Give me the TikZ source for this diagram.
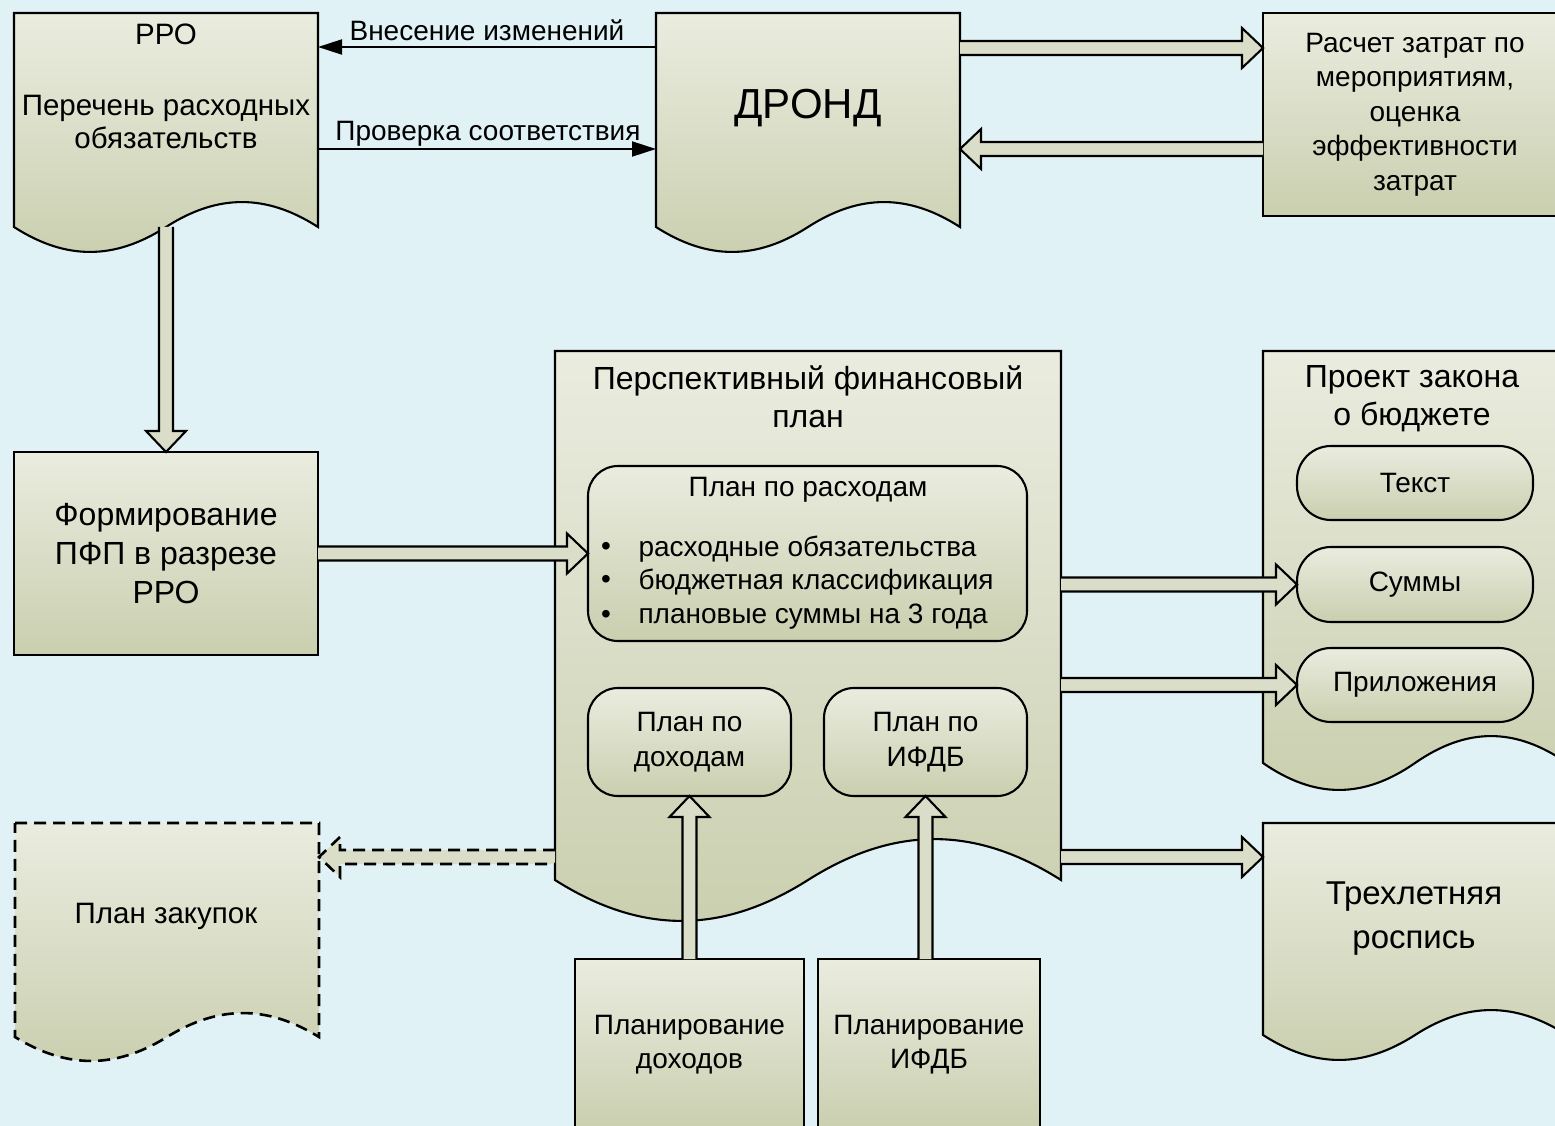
\documentclass[tikz,border=0pt]{standalone}
\usepackage{fontspec}
\setmainfont{Liberation Sans}
\usetikzlibrary{calc,arrows.meta}

\definecolor{bg}{HTML}{E1F2F7}
\definecolor{gtop}{HTML}{EAECDF}
\definecolor{gbot}{HTML}{CACFAF}
\definecolor{afill}{HTML}{DADDC8}

\tikzset{
  shp/.style={draw=black, line width=2.1pt, top color=gtop, bottom color=gbot},
  inv/.style={inner sep=0pt, outer sep=0pt, draw=none, rectangle},
  rbox/.style={shp, inner sep=0pt, outer sep=0pt, rectangle},
  rnd/.style={rbox, rounded corners=30pt},
  pill/.style={rbox, rounded corners=34pt},
  barst/.style={draw=black, line width=2.1pt, fill=afill, line join=miter},
  dashst/.style={dash pattern=on 12pt off 7pt},
  thinarr/.style={draw=black, line width=2pt, -{Triangle[length=24pt, width=15pt]}},
  fA/.style={font=\fontsize{28}{33}\selectfont},
  fR/.style={font=\fontsize{29.5}{33}\selectfont},
  fC/.style={font=\fontsize{28}{34.5}\selectfont},
  fH/.style={font=\fontsize{32}{38}\selectfont},
  fF/.style={font=\fontsize{32}{39}\selectfont},
  fT/.style={font=\fontsize{33}{44}\selectfont},
  fD/.style={font=\fontsize{42}{46}\selectfont},
}

% document shape: #2 left, #3 top, #4 right, #5 bottom of sides, #6 wave amplitude
\newcommand{\docshape}[6][]{%
  \path[shp,#1] (#2,#3) -- (#4,#3) -- (#4,#5)
   .. controls ({#4-0.17*(#4-#2)},{#5-1.33*#6}) and ({(#2+#4)/2+0.17*(#4-#2)},{#5-1.33*#6}) .. ({(#2+#4)/2},#5)
   .. controls ({(#2+#4)/2-0.17*(#4-#2)},{#5+1.33*#6}) and ({#2+0.17*(#4-#2)},{#5+1.33*#6}) .. (#2,#5) -- cycle;}

% block arrow from #2 to #3, direction (#4,#5)
\newcommand{\barrow}[5][]{%
  \path[barst,#1] ($(#2)+({-7*(#5)},{7*(#4)})$)
   -- ($(#3)+({-21*(#4)-7*(#5)},{-21*(#5)+7*(#4)})$)
   -- ($(#3)+({-21*(#4)-20*(#5)},{-21*(#5)+20*(#4)})$)
   -- (#3)
   -- ($(#3)+({-21*(#4)+20*(#5)},{-21*(#5)-20*(#4)})$)
   -- ($(#3)+({-21*(#4)+7*(#5)},{-21*(#5)-7*(#4)})$)
   -- ($(#2)+({7*(#5)},{-7*(#4)})$);}

\begin{document}
\begin{tikzpicture}[x=1pt, y=-1pt]
\useasboundingbox (0,0) rectangle (1555,1126);
\clip (0,0) rectangle (1555,1126);
\fill[bg] (0,0) rectangle (1555,1126);

% ---- document shapes
\docshape{14}{13}{318}{227}{25}
\docshape{656}{13}{960}{227}{25}
\docshape{555}{351}{1061}{880}{41}
\docshape{1263}{351}{1567}{763}{27}
\docshape{1263}{823}{1567}{1035}{25}
\docshape[dashst, line width=2.6pt]{15}{823}{319}{1037}{24}

% ---- named areas of the document shapes
\node[inv, minimum width=304pt, minimum height=214pt] (rro) at (166,120) {};
\node[inv, minimum width=304pt, minimum height=214pt] (dro) at (808,120) {};
\node[inv, minimum width=506pt, minimum height=529pt] (pfp) at (808,615.5) {};
\node[inv, minimum width=304pt, minimum height=412pt] (proj) at (1415,557) {};
\node[inv, minimum width=304pt, minimum height=212pt] (tri) at (1415,929) {};
\node[inv, minimum width=304pt, minimum height=214pt] (zak) at (167,930) {};

% ---- texts of document shapes
\node[fR] (rrot) at (166,34) {РРО};
\node[fR, align=center] (rrot2) at (166,122) {Перечень расходных\\обязательств};
\node[fD] (drot) at (808,108) {ДРОНД};
\node[fH, align=center] (pfpt) at (808,397) {Перспективный финансовый\\план};
\node[fH, align=center] (projt) at (1412,399) {Проект закона\\о бюджете};
\node[fT, align=center] (trit) at (1414,919) {Трехлетняя\\роспись};
\node[fR] (zakt) at (166,916) {План закупок};

% ---- rectangles
\node[rbox, fC, align=center, minimum width=304pt, minimum height=203pt] (calc) at (1415,114.5)
  {\raisebox{-3pt}{\parbox{300pt}{\centering Расчет затрат по\\мероприятиям,\\оценка\\эффективности\\затрат}}};
\node[rbox, fF, align=center, minimum width=304pt, minimum height=203pt] (form) at (166,553.5)
  {Формирование\\ПФП в разрезе\\РРО};
\node[rbox, fC, align=center, minimum width=229pt, minimum height=171pt] (pland) at (689.5,1044.5)
  {Планирование\\доходов};
\node[rbox, fC, align=center, minimum width=222pt, minimum height=171pt] (plani) at (929,1044.5)
  {Планирование\\ИФДБ};

% ---- rounded boxes inside ПФП
\node[rnd, minimum width=439pt, minimum height=175pt] (rash) at (807.5,553.5) {};
\node[fA] (rasht) at (808,490) {План по расходам};
\node[fA] (b1) at (606,549) {•};
\node[fA] (b2) at (606,582) {•};
\node[fA] (b3) at (606,617) {•};
\node[fA, anchor=west] (b1t) at (635,549) {расходные обязательства};
\node[fA, anchor=west] (b2t) at (635,582) {бюджетная классификация};
\node[fA, anchor=west] (b3t) at (635,617) {плановые суммы на 3 года};
\node[rnd, fC, align=center, minimum width=203pt, minimum height=108pt] (doh) at (689.5,742) {\raisebox{-3pt}{\parbox{190pt}{\centering План по\\доходам}}};
\node[rnd, fC, align=center, minimum width=203pt, minimum height=108pt] (ifdb) at (925.5,742) {\raisebox{-3pt}{\parbox{190pt}{\centering План по\\ИФДБ}}};

% ---- pills inside Проект закона
\node[pill, fA, minimum width=236pt, minimum height=74pt] (tekst) at (1415,483) {Текст};
\node[pill, fA, minimum width=236pt, minimum height=75pt] (summy) at (1415,584.5) {Суммы};
\node[pill, fA, minimum width=236pt, minimum height=74pt] (pril) at (1415,685) {Приложения};

% ---- thin arrows with labels
\draw[thinarr] ([yshift=-34pt]dro.north west) -- ([yshift=-34pt]rro.north east);
\draw[thinarr] ([yshift=-136pt]rro.north east) -- ([yshift=-136pt]dro.north west);
\node[fA] (lab1) at (487,30) {Внесение изменений};
\node[fA] (lab2) at (488,134) {Проверка соответствия};

% ---- block arrows
\barrow{[yshift=-35pt]dro.north east}{[yshift=-35pt]calc.north west}{1}{0}
\barrow{[yshift=-136pt]calc.north west}{[yshift=-136pt]dro.north east}{-1}{0}
\barrow{rro.south}{form.north}{0}{1}
\barrow{form.east}{form.east -| rash.west}{1}{0}
\barrow{pfp.east |- summy.west}{summy.west}{1}{0}
\barrow{pfp.east |- pril.west}{pril.west}{1}{0}
\barrow{[yshift=-34pt]tri.north west -| pfp.east}{[yshift=-34pt]tri.north west}{1}{0}
\barrow{pland.north}{doh.south}{0}{-1}
\barrow{plani.north -| ifdb.south}{ifdb.south}{0}{-1}
\barrow[dashst, line width=2.6pt]{[yshift=-34pt]zak.north east -| pfp.west}{[yshift=-34pt]zak.north east}{-1}{0}

\end{tikzpicture}
\end{document}
